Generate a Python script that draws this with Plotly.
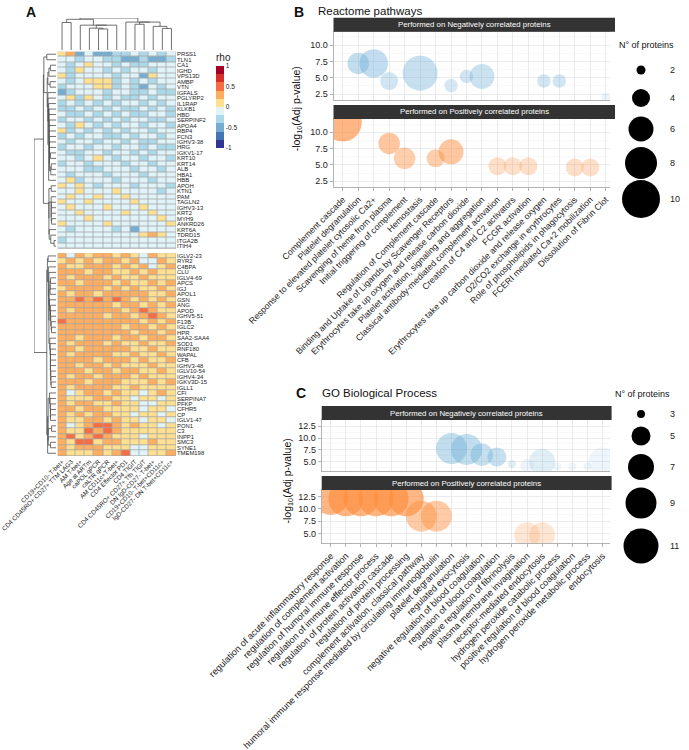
import numpy as np
import plotly.graph_objects as go

W, H = 689, 750
FONT = "Liberation Sans, Arial, sans-serif"

# ------------------------------------------------------------------ data A
col_names = ["CD19+CD10- T-bet+", "CD4 CD45RO+ CD27+ TTM LAG3", "AM T-bet+", "Age at ARTm",
             "caPOL qPCR", "caLTR qPCR", "AM CD11c+T-bet+", "CD4 Effector PD1", "CD4 TIGIT",
             "CD4 CD45RO+ CD27+ Tfh TIGIT", "DN IgD-CD27- T-bet+", "CD19+CD10- T-bet+CD11c+",
             "IgD-CD27- DN T-bet+CD11c+"]

rows_top = ["PRSS1", "TLN1", "CA1", "IGHD", "VPS13D", "AMBP", "VTN", "IGFALS", "PGLYRP2", "IL1RAP",
            "KLKB1", "HBD", "SERPINF2", "APOA4", "RBP4", "FCN3", "IGHV3-38", "HRG", "IGKV1-17",
            "KRT10", "KRT14", "ALB", "HBA1", "HBB", "APOH", "KTN1", "PAM", "TAGLN2", "IGHV3-13",
            "KRT2", "MYH9", "ANKRD26", "KRT6A", "TDRD15", "ITGA2B", "ITIH4"]
rows_bottom = ["IGLV2-23", "RYR2", "C4BPA", "CLU", "IGLV4-69", "APCS", "IGJ", "APOL1", "GSN", "ANG",
               "APOD", "IGHV5-51", "F13B", "IGLC2", "HPR", "SAA2-SAA4", "SOD1", "RNF180", "WAPAL",
               "CFB", "IGHV3-48", "IGLV10-54", "IGHV4-34", "IGKV3D-15", "IGLL1", "CFI", "SERPINA7",
               "PFKP", "CFHR5", "CP", "IGLV1-47", "PON1", "C3", "INPP1", "SMC3", "SYNE1", "TMEM198"]

rho_top = [
    [.1, .3, -.5, -.1, -.5, -.5, -.3, -.3, -.1, -.3, -.1, -.3, -.1],
    [-.1, -.1, -.3, -.1, -.1, -.3, -.3, -.5, -.5, -.3, -.5, -.5, -.3],
    [-.1, -.3, -.1, .1, -.1, -.1, -.3, -.1, -.3, -.3, -.1, -.1, -.1],
    [-.1, -.3, .1, -.1, -.1, -.3, -.1, -.3, -.1, -.1, -.3, -.1, -.1],
    [.1, -.3, -.1, -.1, -.1, -.1, -.3, -.1, -.1, -.5, .1, -.1, -.1],
    [-.1, -.3, -.1, .1, .1, .1, -.3, -.1, -.3, -.1, -.3, -.1, -.1],
    [-.3, -.1, -.1, -.1, .1, .1, -.3, -.1, -.3, -.5, -.1, -.3, -.1],
    [-.5, -.3, -.1, -.1, -.1, -.3, -.1, -.1, -.3, -.3, -.1, -.3, -.3],
    [-.1, .1, -.3, .1, -.1, -.3, -.1, -.3, -.3, -.1, -.3, -.1, -.1],
    [-.3, -.1, -.3, -.1, -.3, -.1, -.3, -.1, -.1, -.3, -.1, -.3, -.1],
    [-.3, -.3, -.1, -.3, -.1, -.3, -.1, -.3, -.3, -.1, -.3, -.1, -.3],
    [-.1, -.3, -.3, -.1, -.3, -.1, -.3, -.1, -.3, -.3, -.1, -.1, -.3],
    [-.3, -.1, -.1, -.3, -.1, -.3, -.1, -.3, -.1, -.1, -.3, -.3, -.1],
    [-.1, -.3, .1, -.1, -.3, -.1, -.3, -.1, -.1, -.3, -.1, -.1, -.3],
    [.1, -.3, -.1, -.3, -.1, -.3, -.1, -.3, -.1, -.1, -.3, -.1, -.1],
    [-.3, -.1, -.3, -.1, -.1, -.3, -.3, -.1, -.3, -.1, -.1, -.3, -.1],
    [-.1, -.3, -.1, -.1, -.3, -.1, -.1, -.3, -.1, -.3, -.3, -.1, -.1],
    [-.3, -.1, -.1, -.3, -.1, -.1, -.3, -.1, -.1, -.3, -.1, -.3, -.3],
    [-.1, -.3, -.3, -.1, -.1, -.3, -.1, -.1, -.3, -.1, -.3, -.1, -.1],
    [-.1, -.1, -.3, -.1, .1, -.1, -.3, -.1, -.1, -.3, -.1, -.1, -.3],
    [-.3, -.1, -.1, -.3, -.1, -.1, -.1, -.3, -.1, -.1, -.3, -.1, -.1],
    [-.1, -.1, -.1, -.3, -.3, -.1, -.1, -.1, -.3, -.1, -.1, -.3, -.1],
    [-.1, -.3, -.1, -.1, -.1, -.3, -.1, -.1, -.1, -.3, -.1, -.1, -.1],
    [-.1, .1, -.3, -.1, -.1, -.1, -.3, -.1, -.1, -.1, -.3, -.1, -.1],
    [.1, -.1, .1, -.1, -.3, -.1, -.1, -.1, -.3, -.1, -.1, -.1, -.3],
    [-.1, -.1, .1, -.1, -.1, -.1, .1, -.1, -.1, -.1, -.1, -.3, -.1],
    [-.1, .1, -.1, -.1, .1, -.1, -.1, .1, -.1, -.1, -.1, -.1, -.1],
    [.1, -.1, -.1, .1, -.1, -.1, -.1, -.1, .1, -.1, -.1, -.1, -.1],
    [-.1, .1, -.1, -.1, -.1, .1, -.1, -.1, -.1, .1, -.1, -.1, -.1],
    [-.1, -.1, .1, -.1, -.1, -.1, -.1, .1, -.1, -.1, .1, -.1, -.1],
    [-.1, -.1, -.1, .1, -.1, -.1, -.1, -.1, -.1, -.1, -.1, .1, -.1],
    [.1, -.1, -.1, -.1, -.1, .1, -.1, -.1, -.1, -.1, -.1, -.1, .1],
    [-.1, -.3, -.1, -.1, -.1, -.1, -.3, -.1, -.5, -.1, -.1, -.1, -.1],
    [-.1, -.1, -.1, -.1, -.1, -.1, -.1, -.1, -.1, .1, .3, .1, -.1],
    [-.3, -.1, -.1, -.1, -.1, -.1, -.1, -.1, -.1, -.1, -.1, -.1, -.1],
    [-.1, -.1, -.1, -.1, -.1, -.1, -.1, -.1, -.1, -.1, -.1, -.1, -.1],
]
rho_bottom = [
    [.3, -.1, .3, .1, .3, .3, .1, .3, .1, -.1, .3, .1, .1],
    [.1, .3, .1, .3, .1, .3, .3, .1, .3, -.1, -.1, .3, .1],
    [.3, .1, .1, .3, .3, .3, .1, .3, .1, .3, -.1, .1, .3],
    [.3, .3, .3, .1, .3, .3, .1, .1, .3, .1, .3, .1, .1],
    [.3, .1, .3, .3, .3, .1, .3, .1, .1, .3, .1, .1, .1],
    [.3, .3, .1, .3, .3, .3, .1, .3, .1, .1, .3, .1, .3],
    [.1, .3, .3, .3, .3, .1, .3, .1, .3, .1, .1, .3, .1],
    [.3, .1, .3, .3, .1, .3, .3, .3, .3, .3, .1, .1, .3],
    [.3, .3, .5, .3, .5, .3, .5, .3, .1, .3, .1, .3, .1],
    [.3, .3, .3, .3, .3, .3, .1, .3, .3, .1, .3, .1, .3],
    [.3, .1, .3, .3, .3, .3, .3, .1, .3, .5, .3, .1, .1],
    [.3, .3, .3, .3, .3, .1, .3, .3, .1, .3, .5, .3, .1],
    [.5, .3, .3, .3, .3, .3, .3, .3, .3, .1, .3, .1, .3],
    [.3, .3, .3, .3, .3, .3, .3, .1, .3, .3, .1, .3, .1],
    [.3, .3, .3, .3, .3, .3, .3, .3, .1, .3, .3, .1, .3],
    [.3, .3, .1, .3, .3, .3, .1, .3, .3, .1, .3, .3, .1],
    [.3, .1, .3, .3, .3, .1, .3, .1, .1, .3, .1, .1, .3],
    [.3, .3, .1, .3, .3, .3, .3, .3, .1, .1, .3, .1, .1],
    [.3, .1, .3, .3, .3, .3, .1, .1, .3, .1, .1, .3, .1],
    [.3, .3, .3, .3, .1, .3, .3, .3, .1, .3, .1, .1, .3],
    [.3, .3, .1, .3, .3, .1, .3, .1, .1, .1, .3, .1, .1],
    [.3, .3, .3, .1, .3, .3, .1, .3, .3, .1, .1, .3, .1],
    [.3, .1, .3, .3, .1, .3, .3, .3, .1, .3, .1, .1, .1],
    [.3, .3, .3, .1, .3, .3, .3, .1, .1, .1, .3, .1, .3],
    [.3, .1, .3, .3, .3, .3, .1, .1, .3, .1, .1, .1, .1],
    [.3, -.1, .1, .3, .3, .1, .3, .1, .1, -.1, .1, .3, .1],
    [.3, .1, .1, .1, .3, .3, .1, .1, -.1, .1, .1, -.1, .1],
    [.3, .1, .3, .3, .1, .1, .3, .1, .1, -.1, -.1, .1, .1],
    [.3, .3, .1, .3, .3, .1, .1, .1, .1, -.1, .1, .1, -.1],
    [.3, .1, .3, .1, .3, .3, .1, .1, -.1, .1, .1, -.1, .1],
    [.3, .1, .1, .3, .3, .1, .3, .1, .1, -.1, .1, .1, -.1],
    [.3, -.1, .1, .3, .5, .5, .3, .1, .3, .1, .1, -.1, .1],
    [.3, .1, .1, .5, .3, .5, .3, .1, .1, .1, .1, .1, .1],
    [.3, .5, .1, .3, .5, .3, .1, .1, .1, -.1, .1, .1, .1],
    [.3, .1, .5, .5, .1, .3, .3, .1, .1, .1, .3, .1, .1],
    [.3, .1, .3, .3, .3, .1, .1, .1, -.1, -.1, .1, .1, .1],
    [.3, .1, .1, .1, .3, .1, .3, .5, -.1, -.1, .1, .1, .3],
]
rho_ticks = [-1, -0.5, 0, 0.5, 1]

# ------------------------------------------------------------------ data B
reactome_terms = [
    "Complement cascade", "Platelet degranulation", "Response to elevated platelet cytosolic Ca2+",
    "Scavenging of heme from plasma", "Initial triggering of complement", "Hemostasis",
    "Regulation of Complement cascade", "Binding and Uptake of Ligands by Scavenger Receptors",
    "Erythrocytes take up oxygen and release carbon dioxide",
    "Platelet activation, signaling and aggregation",
    "Classical antibody-mediated complement activation", "Creation of C4 and C2 activators",
    "FCGR activation", "Erythrocytes take up carbon dioxide and release oxygen",
    "O2/CO2 exchange in erythrocytes", "Role of phospholipids in phagocytosis",
    "FCERI mediated Ca+2 mobilization", "Dissolution of Fibrin Clot"]
reac_neg_terms = ["Platelet degranulation", "Response to elevated platelet cytosolic Ca2+",
                  "Scavenging of heme from plasma", "Hemostasis",
                  "Binding and Uptake of Ligands by Scavenger Receptors",
                  "Erythrocytes take up oxygen and release carbon dioxide",
                  "Platelet activation, signaling and aggregation",
                  "Erythrocytes take up carbon dioxide and release oxygen",
                  "O2/CO2 exchange in erythrocytes", "Dissolution of Fibrin Clot"]
reac_neg_logp = [7.2, 7.2, 4.5, 5.7, 3.8, 5.2, 5.2, 4.5, 4.5, 2.0]
reac_neg_n = [5, 7, 4, 9, 3, 3, 6, 3, 3, 2]
reac_neg_alpha = [0.6, 0.6, 0.45, 0.55, 0.4, 0.45, 0.5, 0.45, 0.45, 0.2]
reac_pos_terms = ["Complement cascade", "Scavenging of heme from plasma",
                  "Initial triggering of complement", "Regulation of Complement cascade",
                  "Binding and Uptake of Ligands by Scavenger Receptors",
                  "Classical antibody-mediated complement activation",
                  "Creation of C4 and C2 activators", "FCGR activation",
                  "Role of phospholipids in phagocytosis", "FCERI mediated Ca+2 mobilization"]
reac_pos_logp = [11.5, 8.3, 6.0, 6.0, 7.0, 4.8, 4.8, 4.8, 4.6, 4.6]
reac_pos_n = [10, 5, 5, 4, 6, 4, 4, 4, 4, 4]
reac_pos_alpha = [0.9, 0.7, 0.6, 0.6, 0.7, 0.4, 0.4, 0.4, 0.4, 0.4]
reac_size_breaks = [2, 4, 6, 8, 10]

# ------------------------------------------------------------------ data C
go_terms = [
    "regulation of acute inflammatory response", "regulation of complement activation",
    "regulation of humoral immune response", "regulation of immune effector process",
    "regulation of protein activation cascade", "regulation of protein processing",
    "complement activation, classical pathway",
    "humoral immune response mediated by circulating immunoglobulin",
    "platelet degranulation", "regulated exocytosis",
    "negative regulation of blood coagulation", "regulation of blood coagulation",
    "negative regulation of fibrinolysis", "plasma membrane invagination",
    "receptor-mediated endocytosis", "hydrogen peroxide catabolic process",
    "positive regulation of blood coagulation", "hydrogen peroxide metabolic process",
    "endocytosis"]
go_neg_terms = ["platelet degranulation", "regulated exocytosis",
                "negative regulation of blood coagulation", "regulation of blood coagulation",
                "negative regulation of fibrinolysis", "plasma membrane invagination",
                "receptor-mediated endocytosis", "hydrogen peroxide catabolic process",
                "positive regulation of blood coagulation", "hydrogen peroxide metabolic process",
                "endocytosis"]
go_neg_logp = [7.8, 7.6, 6.5, 6.0, 4.5, 4.2, 5.0, 4.0, 4.0, 4.0, 5.0]
go_neg_n = [9, 9, 6, 5, 3, 4, 7, 3, 3, 3, 8]
go_neg_alpha = [0.6, 0.6, 0.55, 0.55, 0.3, 0.15, 0.3, 0.15, 0.15, 0.15, 0.15]
go_pos_terms = ["regulation of acute inflammatory response", "regulation of complement activation",
                "regulation of humoral immune response", "regulation of immune effector process",
                "regulation of protein activation cascade", "regulation of protein processing",
                "complement activation, classical pathway",
                "humoral immune response mediated by circulating immunoglobulin",
                "plasma membrane invagination", "receptor-mediated endocytosis"]
go_pos_logp = [12.3, 12.0, 12.0, 12.0, 12.0, 12.0, 8.5, 8.5, 4.6, 4.6]
go_pos_n = [11, 11, 11, 11, 11, 11, 9, 9, 7, 7]
go_pos_alpha = [0.9, 0.9, 0.9, 0.9, 0.9, 0.9, 0.65, 0.65, 0.3, 0.3]
go_size_breaks = [3, 5, 7, 9, 11]

# ------------------------------------------------------------------ helpers
def px(x):
    return x / W


def py(y):
    return 1 - y / H


RDYLBU10 = ["#313695", "#4575B4", "#74ADD1", "#ABD9E9", "#E0F3F8",
            "#FEE090", "#FDAE61", "#F46D43", "#D73027", "#A50026"]
cscale = []
for i, c in enumerate(RDYLBU10):
    cscale.append([i / 10, c])
    cscale.append([(i + 1) / 10, c])


def rgba(hexc, a):
    h = hexc.lstrip("#")
    return "rgba(%d,%d,%d,%.3f)" % (int(h[0:2], 16), int(h[2:4], 16), int(h[4:6], 16), a)


def ordered_tree(X, idx, pos, force=None):
    """Divisive clustering on an ordered set of leaves (keeps display order)."""
    if len(idx) == 1:
        return {"p": pos[idx[0]], "h": 0.0, "segs": []}
    if force is not None:
        k = force
    else:
        best, k = None, 1
        for s in range(1, len(idx)):
            a, b = X[idx[:s]], X[idx[s:]]
            sse = ((a - a.mean(0)) ** 2).sum() + ((b - b.mean(0)) ** 2).sum()
            if best is None or sse < best - 1e-12:
                best, k = sse, s
    L = ordered_tree(X, idx[:k], pos)
    R = ordered_tree(X, idx[k:], pos)
    sub = X[idx]
    d = np.sqrt(((sub[:, None, :] - sub[None, :, :]) ** 2).sum(-1)).max()
    h = max(d, L["h"], R["h"])
    segs = L["segs"] + R["segs"] + [(L["h"], L["p"], h, L["p"]), (h, L["p"], h, R["p"]),
                                    (h, R["p"], R["h"], R["p"])]
    return {"p": (L["p"] + R["p"]) / 2, "h": h, "segs": segs}


# ------------------------------------------------------------------ geometry (px)
HM_L, HM_R, HM_T, HM_B = 57.5, 176.0, 51.5, 456.0
GAP_ROWS = 0.8
n_top, n_bot = len(rows_top), len(rows_bottom)
y_top = list(range(n_top))
y_bot = [n_top + GAP_ROWS + j for j in range(n_bot)]
y_all = y_top + y_bot
y_max = y_bot[-1] + 0.5

fig = go.Figure()

shapes = []
for ys in (y_top, y_bot):
    shapes.append(dict(type="rect", xref="x", yref="y", x0=-0.5, x1=len(col_names) - 0.5,
                       y0=ys[0] - 0.5, y1=ys[-1] + 0.5, fillcolor="#A6A6A6",
                       line=dict(width=0), layer="below"))

for ys, z in ((y_top, rho_top), (y_bot, rho_bottom)):
    fig.add_trace(go.Heatmap(x=list(range(len(col_names))), y=ys, z=z, coloraxis="coloraxis",
                             xgap=0.8, ygap=0.8, hoverinfo="skip", xaxis="x", yaxis="y"))

Xr = np.array(rho_top + rho_bottom)
row_tree = ordered_tree(Xr, list(range(len(y_all))), y_all, force=n_top)
col_tree = ordered_tree(Xr.T, list(range(len(col_names))), list(range(len(col_names))))


def seg_xy(segs, swap):
    xs, ys = [], []
    for h0, p0, h1, p1 in segs:
        if swap:
            xs += [p0, p1, None]; ys += [h0, h1, None]
        else:
            xs += [h0, h1, None]; ys += [p0, p1, None]
    return xs, ys


cx, cy = seg_xy(col_tree["segs"], True)
fig.add_trace(go.Scatter(x=cx, y=cy, mode="lines", line=dict(color="#4D4D4D", width=0.8),
                         hoverinfo="skip", xaxis="x2", yaxis="y2"))
rx, ry = seg_xy(row_tree["segs"], False)
fig.add_trace(go.Scatter(x=rx, y=ry, mode="lines", line=dict(color="#4D4D4D", width=0.8),
                         hoverinfo="skip", xaxis="x3", yaxis="y3"))

# ------------------------------------------------------------------ bubble panels
BLUE, ORANGE = "#6BAED6", "#FD8D3C"


def size_fn(breaks, diam):
    return lambda n: list(np.interp(n, breaks, diam))


B_DIAM = [9, 18, 25, 32, 38]
C_DIAM = [8, 19, 26, 31, 35]
b_size = size_fn(reac_size_breaks, B_DIAM)
c_size = size_fn(go_size_breaks, C_DIAM)

for terms, vals, n, al, col, ax, fn in [
    (reac_neg_terms, reac_neg_logp, reac_neg_n, reac_neg_alpha, BLUE, ("x4", "y4"), b_size),
    (reac_pos_terms, reac_pos_logp, reac_pos_n, reac_pos_alpha, ORANGE, ("x5", "y5"), b_size),
    (go_neg_terms, go_neg_logp, go_neg_n, go_neg_alpha, BLUE, ("x6", "y6"), c_size),
    (go_pos_terms, go_pos_logp, go_pos_n, go_pos_alpha, ORANGE, ("x7", "y7"), c_size)]:
    fig.add_trace(go.Scatter(x=terms, y=vals, mode="markers", hoverinfo="skip",
                             marker=dict(size=fn(n), color=[rgba(col, a) for a in al],
                                         line=dict(width=0)),
                             xaxis=ax[0], yaxis=ax[1]))

annotations = []
B_LEG_Y = [70, 98, 129, 163, 199]
C_LEG_Y = [414, 436, 467, 503, 546]
LEG_X, LEG_TX = 641, 668
for brk, diam, ly, ax in [(reac_size_breaks, B_DIAM, B_LEG_Y, ("x8", "y8")),
                          (go_size_breaks, C_DIAM, C_LEG_Y, ("x9", "y9"))]:
    fig.add_trace(go.Scatter(x=[LEG_X] * len(brk), y=ly, mode="markers", hoverinfo="skip",
                             marker=dict(size=diam, color="#000000", opacity=1,
                                         line=dict(width=0)),
                             cliponaxis=False, xaxis=ax[0], yaxis=ax[1]))
    for b, yy in zip(brk, ly):
        annotations.append(dict(x=px(LEG_TX), y=py(yy), xref="paper", yref="paper",
                                text=str(b), showarrow=False, xanchor="left", yanchor="middle",
                                font=dict(size=9, color="#222")))

# ------------------------------------------------------------------ layout
B_L, B_R = 333.5, 615
C_L, C_R = 321.7, 611.6
B_TOP = (31.7, 100.0)
B_BOT = (119.0, 187.0)
C_TOP = (420.0, 471.0)
C_BOT = (490.0, 543.0)
STRIP_H = 14.0

grid = "#E6E6E6"
border = "#B3B3B3"


def panel_x(dom, terms, show, anchor, fsize):
    d = dict(domain=dom, anchor=anchor, automargin=False, type="category",
             categoryorder="array", categoryarray=terms,
             range=[-0.6, len(terms) - 0.4], showgrid=True, gridcolor=grid, gridwidth=0.8,
             showline=True, mirror=True, linecolor=border, linewidth=1, zeroline=False,
             tickmode="array", tickvals=terms, ticktext=terms)
    if show:
        d.update(showticklabels=True, tickangle=-45, ticks="outside", ticklen=3,
                 tickcolor=border, tickfont=dict(size=fsize, color="#222"))
    else:
        d.update(showticklabels=False, ticks="")
    return d


def panel_y(dom, rng, tv, anchor):
    return dict(domain=dom, range=rng, anchor=anchor, automargin=False, tickmode="array",
                tickvals=tv, ticktext=["%.1f" % v for v in tv], showgrid=True, gridcolor=grid,
                gridwidth=0.8,
                minor=dict(tickmode="array", tickvals=[v + 1.25 for v in tv] + [tv[0] - 1.25],
                           showgrid=True, gridcolor="#F2F2F2", gridwidth=0.5, ticks=""),
                showline=True, mirror=True, linecolor=border, linewidth=1, zeroline=False,
                ticks="outside", ticklen=3, tickcolor=border,
                tickfont=dict(size=9, color="#222"))


B_RANGE = [1.6, 12.05]
C_RANGE = [3.05, 13.8]
B_TV = [2.5, 5.0, 7.5, 10.0]
C_TV = [5.0, 7.5, 10.0, 12.5]


def hidden(dom, rng, anchor):
    return dict(domain=dom, range=rng, anchor=anchor, visible=False, automargin=False)


layout = dict(
    width=W, height=H, margin=dict(l=0, r=0, t=0, b=0, autoexpand=False), paper_bgcolor="white",
    plot_bgcolor="white", showlegend=False, font=dict(family=FONT, color="#222"),
    hovermode=False,
    coloraxis=dict(colorscale=cscale, cmin=-1, cmax=1,
                   colorbar=dict(x=px(216), xanchor="left", y=py(50), yanchor="top",
                                 len=98, lenmode="pixels", thickness=7.5, thicknessmode="pixels",
                                 xpad=0, ypad=0, outlinewidth=0, ticks="",
                                 tickvals=rho_ticks, ticktext=[str(v) for v in rho_ticks],
                                 tickfont=dict(size=6.5, color="#222"),
                                 title=dict(text="rho", side="top", font=dict(size=10)))),
    xaxis=dict(domain=[px(HM_L), px(HM_R)], range=[-0.5, len(col_names) - 0.5], anchor="y",
               automargin=False, tickmode="array", tickvals=list(range(len(col_names))),
               ticktext=col_names, tickangle=-45, tickfont=dict(size=6.3, color="#222"),
               showgrid=False, zeroline=False, ticks="", showline=False),
    yaxis=dict(domain=[py(HM_B), py(HM_T)], range=[y_max, -0.5], anchor="x", side="right",
               automargin=False, tickmode="array", tickvals=y_all,
               ticktext=rows_top + rows_bottom, tickfont=dict(size=5.9, color="#222"),
               showgrid=False, zeroline=False, ticks="", showline=False),
    xaxis2=hidden([px(HM_L), px(HM_R)], [-0.5, len(col_names) - 0.5], "y2"),
    yaxis2=hidden([py(50), py(18)], [0, col_tree["h"]], "x2"),
    xaxis3=hidden([px(34), px(56)], [row_tree["h"], 0], "y3"),
    yaxis3=hidden([py(HM_B), py(HM_T)], [y_max, -0.5], "x3"),
    xaxis4=panel_x([px(B_L), px(B_R)], reactome_terms, False, "y4", 8.8),
    yaxis4=panel_y([py(B_TOP[1]), py(B_TOP[0])], B_RANGE, B_TV, "x4"),
    xaxis5=panel_x([px(B_L), px(B_R)], reactome_terms, True, "y5", 8.8),
    yaxis5=panel_y([py(B_BOT[1]), py(B_BOT[0])], B_RANGE, B_TV, "x5"),
    xaxis6=panel_x([px(C_L), px(C_R)], go_terms, False, "y6", 9.2),
    yaxis6=panel_y([py(C_TOP[1]), py(C_TOP[0])], C_RANGE, C_TV, "x6"),
    xaxis7=panel_x([px(C_L), px(C_R)], go_terms, True, "y7", 9.2),
    yaxis7=panel_y([py(C_BOT[1]), py(C_BOT[0])], C_RANGE, C_TV, "x7"),
    xaxis8=hidden([px(610), 1], [610, 689], "y8"),
    yaxis8=hidden([py(230), py(30)], [230, 30], "x8"),
    xaxis9=hidden([px(610), 1], [610, 689], "y9"),
    yaxis9=hidden([py(580), py(380)], [580, 380], "x9"),
)

for (l, r), top, label in [((B_L, B_R), B_TOP[0], "Performed on Negatively correlated proteins"),
                           ((B_L, B_R), B_BOT[0], "Performed on Positively correlated proteins"),
                           ((C_L, C_R), C_TOP[0], "Performed on Negatively correlated proteins"),
                           ((C_L, C_R), C_BOT[0], "Performed on Positively correlated proteins")]:
    shapes.append(dict(type="rect", xref="paper", yref="paper", x0=px(l), x1=px(r),
                       y0=py(top), y1=py(top - STRIP_H), fillcolor="#333333",
                       line=dict(width=0)))
    annotations.append(dict(x=px((l + r) / 2), y=py(top - STRIP_H / 2), xref="paper",
                            yref="paper", text=label, showarrow=False,
                            font=dict(size=7.8, color="white"), xanchor="center",
                            yanchor="middle"))


def txt(x, y, s, size, bold=False, xanchor="left", angle=0, color="#111"):
    annotations.append(dict(x=px(x), y=py(y), xref="paper", yref="paper",
                            text=("<b>%s</b>" % s) if bold else s, showarrow=False,
                            font=dict(size=size, color=color), xanchor=xanchor,
                            yanchor="middle", textangle=angle))


txt(24, 12, "A", 14, bold=True)
txt(292, 12, "B", 14, bold=True)
txt(316, 11, "Reactome pathways", 11.5)
txt(294, 393, "C", 14, bold=True)
txt(320, 393, "GO Biological Process", 11.5)
ytitle = "-log<sub>10</sub>(Adj p-value)"
txt(297, (B_TOP[0] + B_BOT[1]) / 2, ytitle, 10.5, xanchor="center", angle=-90)
txt(287, (C_TOP[0] + C_BOT[1]) / 2, ytitle, 10.5, xanchor="center", angle=-90)
txt(617, 45, "N° of proteins", 9)
txt(613, 394, "N° of proteins", 9)

layout["shapes"] = shapes
layout["annotations"] = annotations
fig.update_layout(**layout)
fig.write_html("out.html", config={"displayModeBar": False, "staticPlot": True},
               post_script="document.body.style.margin='0';document.body.style.padding='0';")
